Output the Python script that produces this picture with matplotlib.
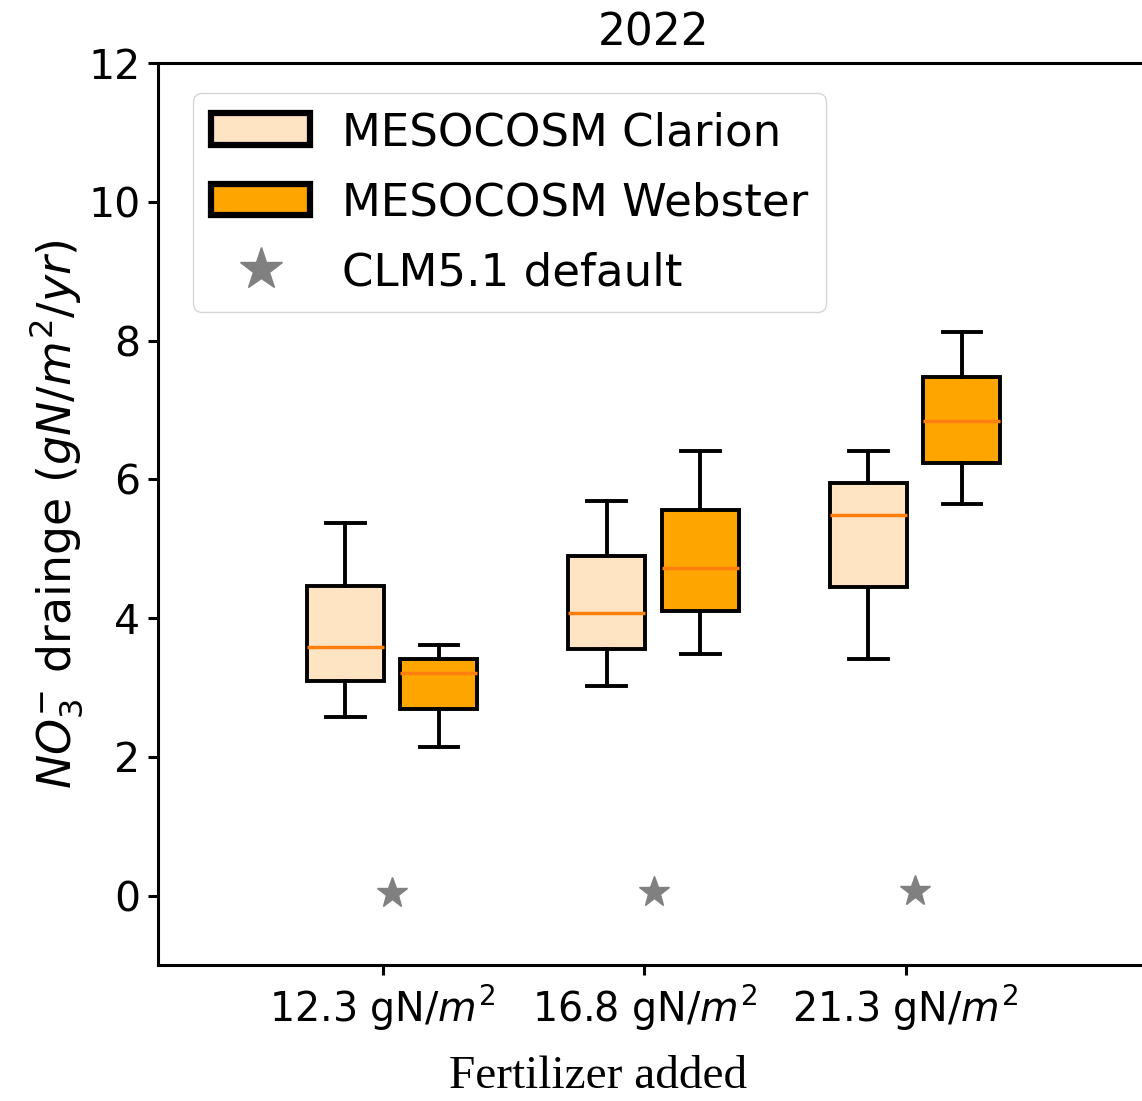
import matplotlib
matplotlib.use("Agg")
import matplotlib.pyplot as plt
from matplotlib.patches import Patch
from matplotlib.lines import Line2D
import numpy as np

# Fertilizer levels (x categories)
fert_labels = ["12.3 gN/$m^2$", "16.8 gN/$m^2$", "21.3 gN/$m^2$"]

# MESOCOSM Clarion box stats
clarion_whislo = [2.58, 3.02, 3.41]
clarion_q1     = [3.09, 3.56, 4.45]
clarion_med    = [3.58, 4.08, 5.49]
clarion_q3     = [4.46, 4.89, 5.95]
clarion_whishi = [5.37, 5.69, 6.41]

# MESOCOSM Webster box stats
webster_whislo = [2.15, 3.49, 5.65]
webster_q1     = [2.69, 4.11, 6.24]
webster_med    = [3.21, 4.73, 6.84]
webster_q3     = [3.41, 5.56, 7.48]
webster_whishi = [3.62, 6.41, 8.13]

# CLM5.1 default model values
clm_default = [0.04, 0.05, 0.07]


def make_stats(lo, q1, med, q3, hi):
    return [dict(whislo=a, q1=b, med=c, q3=d, whishi=e, fliers=[])
            for a, b, c, d, e in zip(lo, q1, med, q3, hi)]


W, H, DPI = 1142, 1101, 100
fig = plt.figure(figsize=(W / DPI, H / DPI), dpi=DPI)
ax = fig.add_axes([158.3 / W, 1 - 965 / H, (1148 - 158.3) / W, (965 - 63.3) / H])

x = np.arange(1, len(fert_labels) + 1)
lw_box = 2.8
lw_med = 2.5

for stats, off, col in [
        (make_stats(clarion_whislo, clarion_q1, clarion_med, clarion_q3, clarion_whishi), -0.143, "bisque"),
        (make_stats(webster_whislo, webster_q1, webster_med, webster_q3, webster_whishi), 0.215, "orange")]:
    ax.bxp(stats, positions=x + off, widths=0.295, patch_artist=True,
           showfliers=False, manage_ticks=False,
           boxprops=dict(facecolor=col, edgecolor="black", linewidth=lw_box),
           medianprops=dict(color="#ff7f0e", linewidth=lw_med),
           whiskerprops=dict(color="black", linewidth=lw_box),
           capprops=dict(color="black", linewidth=lw_box))

ax.plot(x + 0.037, clm_default, linestyle="none", marker="*", markersize=23,
        color="gray", label="CLM5.1 default")

ax.set_xlim(0.142, 3.927)
ax.set_ylim(-1, 12)
ax.set_xticks(x)
ax.set_xticklabels(fert_labels)
ax.set_yticks([0, 2, 4, 6, 8, 10, 12])
ax.tick_params(labelsize=29.5, width=2.2, length=7, pad=6)
ax.tick_params(axis="x", labelsize=28.5)
for s in ax.spines.values():
    s.set_linewidth(2.2)

ax.set_title("2022", fontsize=31.5, pad=13)
ax.set_ylabel("$NO_3^{-}$ drainge ($gN/m^2/yr$)", fontsize=33, labelpad=2)

fig.text(598 / W, 1 - 1077 / H, "Fertilizer added", family="Liberation Serif",
         fontsize=34, ha="center", va="center")

handles = [Patch(facecolor="bisque", edgecolor="black", linewidth=4.5),
           Patch(facecolor="orange", edgecolor="black", linewidth=4.5),
           Line2D([], [], linestyle="none", marker="*", markersize=23, color="gray")]
labels = ["MESOCOSM Clarion", "MESOCOSM Webster", "CLM5.1 default"]
ax.legend(handles, labels, loc="upper left",
          bbox_to_anchor=((193 - 158.3) / (1148 - 158.3), (965 - 93) / (965 - 63.3)),
          borderaxespad=0, fontsize=32.5, markerscale=1.4, handlelength=2.2,
          labelspacing=0.6, handletextpad=0.7)

fig.savefig("out.png", dpi=DPI)
